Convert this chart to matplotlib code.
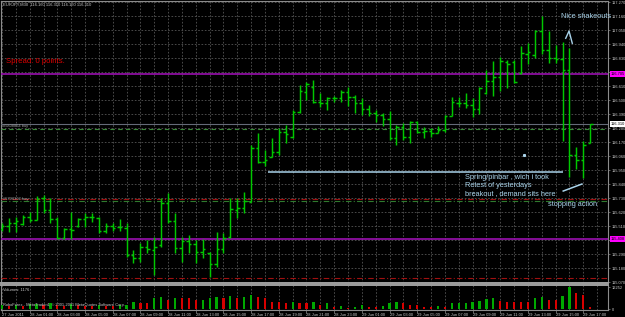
import matplotlib
matplotlib.use('Agg')
import matplotlib.pyplot as plt
import numpy as np

plt.rcParams['font.family'] = ['Liberation Sans', 'DejaVu Sans']

#--------------------------------------------------------------------
# EURJPY M30, 27 Jun 23:00 .. 29 Jun 17:30
opens = [115.487, 115.510, 115.534, 115.526, 115.581, 115.557, 115.730, 115.636, 115.565, 115.416,
         115.487, 115.510, 115.565, 115.581, 115.573, 115.471, 115.510, 115.502, 115.495, 115.282,
         115.259, 115.345, 115.322, 115.361, 115.691, 115.550, 115.337, 115.392, 115.369, 115.306,
         115.298, 115.212, 115.330, 115.424, 115.636, 115.652, 115.699, 116.123, 116.013, 116.052,
         116.092, 116.249, 116.210, 116.406, 116.563, 116.602, 116.485, 116.477, 116.516, 116.516,
         116.563, 116.524, 116.477, 116.430, 116.398, 116.382, 116.351, 116.202, 116.288, 116.210,
         116.327, 116.249, 116.257, 116.241, 116.265, 116.375, 116.477, 116.477, 116.461, 116.430,
         116.555, 116.650, 116.681, 116.799, 116.799, 116.712, 116.862, 116.854, 117.042, 116.893,
         116.830, 116.822, 116.736, 116.068, 116.029, 116.160]
highs = [115.534, 115.573, 115.581, 115.597, 115.620, 115.746, 115.754, 115.730, 115.581, 115.495,
         115.620, 115.573, 115.612, 115.612, 115.581, 115.534, 115.534, 115.565, 115.534, 115.322,
         115.377, 115.400, 115.424, 115.730, 115.770, 115.612, 115.424, 115.440, 115.400, 115.408,
         115.306, 115.463, 115.455, 115.730, 115.730, 115.777, 116.147, 116.241, 116.107, 116.202,
         116.280, 116.304, 116.422, 116.618, 116.642, 116.657, 116.555, 116.524, 116.532, 116.579,
         116.602, 116.540, 116.516, 116.461, 116.422, 116.398, 116.414, 116.304, 116.320, 116.335,
         116.335, 116.288, 116.280, 116.296, 116.382, 116.524, 116.524, 116.555, 116.516, 116.602,
         116.736, 116.807, 116.838, 116.815, 116.815, 116.925, 116.948, 117.050, 117.160, 117.042,
         116.932, 116.956, 116.909, 116.131, 116.178, 116.310]
lows = [115.471, 115.463, 115.463, 115.518, 115.542, 115.557, 115.612, 115.534, 115.408, 115.408,
        115.408, 115.502, 115.502, 115.542, 115.455, 115.455, 115.471, 115.471, 115.267, 115.220,
        115.227, 115.298, 115.125, 115.345, 115.534, 115.298, 115.227, 115.298, 115.220, 115.259,
        115.110, 115.188, 115.298, 115.416, 115.573, 115.612, 115.699, 116.005, 115.982, 116.052,
        116.068, 116.162, 116.202, 116.398, 116.500, 116.477, 116.445, 116.422, 116.485, 116.485,
        116.453, 116.398, 116.382, 116.375, 116.327, 116.296, 116.186, 116.147, 116.186, 116.162,
        116.241, 116.202, 116.210, 116.241, 116.249, 116.375, 116.445, 116.437, 116.367, 116.390,
        116.547, 116.532, 116.571, 116.595, 116.634, 116.705, 116.783, 116.830, 116.862, 116.791,
        116.791, 116.178, 115.895, 115.958, 115.887, 116.160]
closes = [115.510, 115.534, 115.550, 115.581, 115.557, 115.722, 115.636, 115.565, 115.416, 115.487,
          115.479, 115.565, 115.581, 115.581, 115.471, 115.510, 115.495, 115.502, 115.282, 115.259,
          115.345, 115.330, 115.345, 115.691, 115.550, 115.337, 115.392, 115.369, 115.306, 115.330,
          115.212, 115.330, 115.416, 115.644, 115.652, 115.707, 116.123, 116.013, 116.029, 116.092,
          116.249, 116.233, 116.406, 116.571, 116.626, 116.485, 116.477, 116.516, 116.516, 116.563,
          116.524, 116.477, 116.430, 116.398, 116.382, 116.351, 116.202, 116.288, 116.210, 116.327,
          116.249, 116.257, 116.241, 116.265, 116.375, 116.485, 116.477, 116.461, 116.430, 116.595,
          116.650, 116.681, 116.807, 116.783, 116.642, 116.870, 116.877, 117.042, 116.893, 116.830,
          116.822, 116.736, 116.068, 116.029, 116.147, 116.310]
volumes = [2400, 1800, 2100, 1500, 2600, 3000, 2200, 3300, 2500, 1900,
           2800, 2000, 1700, 1500, 2300, 1800, 1600, 2200, 2500, 4000,
           3300, 3100, 6100, 6700, 5000, 6100, 6000, 5900, 5000, 5200,
           6100, 6700, 6100, 7200, 6100, 6700, 7800, 6700, 6100, 3900,
           3800, 3300, 3900, 3300, 3200, 4000, 2200, 3200, 1300, 1400,
           600, 1300, 2200, 1300, 1250, 1700, 3500, 4000, 3200, 2200,
           2000, 1300, 950, 1700, 1300, 3200, 3300, 3500, 4000, 4600,
           5400, 6000, 4600, 4000, 3900, 3800, 3700, 6000, 6500, 5000,
           4800, 7200, 12252, 8700, 7800, 1176]

time_labels = ['27 Jun 2011', '28 Jun 01:00', '28 Jun 03:00', '28 Jun 05:00', '28 Jun 07:00',
               '28 Jun 09:00', '28 Jun 11:00', '28 Jun 13:00', '28 Jun 15:00', '28 Jun 17:00',
               '28 Jun 19:00', '28 Jun 21:00', '28 Jun 23:00', '29 Jun 01:00', '29 Jun 03:00',
               '29 Jun 05:00', '29 Jun 07:00', '29 Jun 09:00', '29 Jun 11:00', '29 Jun 13:00',
               '29 Jun 15:00', '29 Jun 17:00']
price_ticks = [117.270, 117.160, 117.050, 116.940, 116.830, 116.720, 116.610, 116.500, 116.390,
               116.280, 116.170, 116.060, 115.950, 115.840, 115.730, 115.620, 115.510, 115.400,
               115.290, 115.180, 115.070]

# horizontal levels
level_magenta = [116.705, 115.408]
bid_price = 116.310
order_open = 116.272
order_labels = ['#5808854 buy', '#5793362 buy']
order_label_prices = [116.296, 115.722]
stop_red = [115.722, 115.102]
order2_open = 115.707

# hand drawn annotations (bar index, price)
support_x = [38.4, 81.1]
support_y = [115.935, 115.935]
arrow_x = [81.1, 83.8]
arrow_y = [115.785, 115.840]
caret_x = [81.46, 81.94, 82.41]
caret_y = [116.985, 117.042, 116.946]
notes = [('Nice shakeouts', 80.8, 117.160),
         ('Spring/pinbar , wich i took', 66.9, 115.888),
         ('Retest of yesterdays', 66.9, 115.825),
         ('breakout , demand sits here', 66.9, 115.762),
         ('stopping action', 78.9, 115.683)]
#--------------------------------------------------------------------

W, H = 625, 317
BG = '#000000'
GREEN = '#00c800'
GRIDC = '#555555'
TXT = '#c8c8c8'
NOTE = '#a9d3ea'
FS = 2.9

fig = plt.figure(figsize=(W / 100, H / 100), dpi=100, facecolor=BG)


def px_axes(x0, y0, x1, y1):
    return fig.add_axes([x0 / W, 1 - y1 / H, (x1 - x0) / W, (y1 - y0) / H])


ax = px_axes(1, 1, 608, 283)
axv = px_axes(1, 285, 608, 310)

n = len(opens)
idx = np.arange(n)
xl = (-0.145, 87.57)

for a in (ax, axv):
    a.set_facecolor(BG)
    a.set_xlim(*xl)
    for s in a.spines.values():
        s.set_color('#8c8c8c')
        s.set_linewidth(0.8)

# price window
ax.set_ylim(115.0625, 117.278)
ax.vlines(idx, lows, highs, color=GREEN, lw=1.05, zorder=4)
ax.hlines(opens, idx - 0.36, idx, color=GREEN, lw=1.05, zorder=4)
ax.hlines(closes, idx, idx + 0.36, color=GREEN, lw=1.05, zorder=4)

ax.set_xticks(np.arange(0, 88, 2))
ax.set_xticklabels([])
ax.yaxis.tick_right()
ax.set_yticks(price_ticks)
ax.set_yticklabels(['%.3f' % p for p in price_ticks])
ax.tick_params(axis='y', length=1.5, width=0.5, color='#8c8c8c', labelsize=FS,
               labelcolor=TXT, pad=1)
ax.tick_params(axis='x', length=0)
ax.grid(True, color=GRIDC, lw=0.6, linestyle=(0, (2, 2)))
ax.spines['bottom'].set_color('#a0a0a0')
ax.spines['bottom'].set_linewidth(1.4)

for p in level_magenta:
    ax.axhline(p, color='#9a10b0', lw=1.2, zorder=3)
    ax.text(1.004, p, '%.3f' % p, transform=ax.get_yaxis_transform(), fontsize=FS,
            color='#000000', va='center', ha='left', clip_on=False, zorder=6,
            bbox=dict(boxstyle='square,pad=0.2', fc='#ff00ff', ec='none'))
ax.axhline(bid_price, color='#646a78', lw=0.8, zorder=3)
ax.text(1.004, bid_price, '%.3f' % bid_price, transform=ax.get_yaxis_transform(),
        fontsize=FS, color='#000000', va='center', ha='left', clip_on=False, zorder=6,
        bbox=dict(boxstyle='square,pad=0.2', fc='#ffffff', ec='none'))
ax.axhline(order_open, color='#3a8a3a', lw=0.8, linestyle=(0, (4, 3)), zorder=3)
ax.axhline(order2_open, color='#2e7a2e', lw=0.8, linestyle=(0, (5, 2, 1, 2)), zorder=3)
for p in stop_red:
    ax.axhline(p, color='#a01010', lw=0.8, linestyle=(0, (5, 2, 1, 2)), zorder=3)
for lab, p in zip(order_labels, order_label_prices):
    ax.text(0.15, p, lab, fontsize=FS, color='#a0a0a0', va='center', ha='left', zorder=5)

ax.text(0.58, 116.799, 'Spread: 0 points.', fontsize=5.6, color='#e00000',
        va='center', ha='left', zorder=5)

ax.plot(support_x, support_y, color=NOTE, lw=1.1, zorder=5, solid_capstyle='butt')
ax.plot(arrow_x, arrow_y, color=NOTE, lw=1.1, zorder=5)
ax.plot(caret_x, caret_y, color=NOTE, lw=1.0, zorder=5)
ax.plot([75.43], [116.068], 's', color=NOTE, ms=1.2, zorder=5)
for t, x, y in notes:
    ax.text(x, y, t, fontsize=5.35, color=NOTE, va='center', ha='left', zorder=6,
            clip_on=False)

# volume window
vcol = ['#00a800'] + [('#00a800' if volumes[i] > volumes[i - 1] else '#d80000')
                      for i in range(1, n)]
axv.bar(idx, volumes, width=0.32, color=vcol, zorder=3)
axv.set_ylim(-557, 13370)
axv.yaxis.tick_right()
axv.set_yticks([12252, 0])
axv.set_yticklabels(['12252', '0'])
axv.tick_params(axis='y', length=1.5, width=0.5, color='#8c8c8c', labelsize=FS,
                labelcolor=TXT, pad=1)
axv.set_xticks(np.arange(0, 85, 4))
axv.set_xticklabels(time_labels, ha='left')
axv.set_xticks(np.arange(2, 88, 4), minor=True)
axv.tick_params(axis='x', which='major', length=2, width=0.5, color='#8c8c8c',
                labelsize=FS, labelcolor=TXT, pad=0.5)
axv.tick_params(axis='x', which='minor', length=0)
axv.grid(True, axis='x', which='both', color=GRIDC, lw=0.6, linestyle=(0, (2, 2)))
axv.spines['top'].set_color('#a0a0a0')
axv.spines['top'].set_linewidth(1.4)

fig.text(3 / W, 1 - 290 / H, 'Volumes: 1176', fontsize=FS, color=TXT, va='center')
fig.text(3 / W, 1 - 305 / H, 'RoboForex - MetaTrader4, \u00a9 2001-2011 MetaQuotes Software Corp.',
         fontsize=FS, color=TXT, va='center')
fig.text(3 / W, 1 - 5 / H, 'EURJPY,M30  %.3f %.3f %.3f %.3f' % (opens[-1], highs[-1], lows[-1], closes[-1]),
         fontsize=3.0, color=TXT, va='center')

fig.savefig('out.png', dpi=100, facecolor=BG)
